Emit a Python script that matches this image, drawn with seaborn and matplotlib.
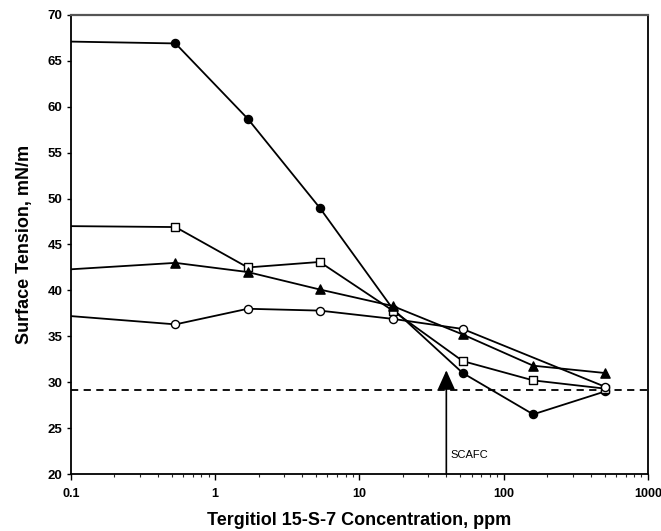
import numpy as np
import pandas as pd
import matplotlib
matplotlib.use("Agg")
import matplotlib.pyplot as plt
import seaborn as sns
from matplotlib.ticker import LogLocator, NullFormatter, FixedLocator, FixedFormatter

# ---- data ----
conc = [0.1, 0.53, 1.68, 5.3, 17, 52, 160, 505]
filled_circle = [67.1, 66.9, 58.7, 49.0, 38.0, 31.0, 26.5, 29.0]
open_square = [47.0, 46.9, 42.5, 43.1, 37.8, 32.3, 30.2, 29.3]
filled_triangle = [42.3, 43.0, 42.0, 40.1, 38.3, 35.2, 31.8, 31.0]
conc_open_circle = [0.1, 0.53, 1.68, 5.3, 17, 52, 505]
open_circle = [37.2, 36.3, 38.0, 37.8, 36.9, 35.8, 29.5]
scafc_line = 29.2
scafc_x = 40
x_ticks = [0.1, 1, 10, 100, 1000]
x_tick_labels = ["0.1", "1", "10", "100", "1000"]
y_ticks = [20, 25, 30, 35, 40, 45, 50, 55, 60, 65, 70]

sns.set_theme(style="white")
plt.rcParams['font.family'] = ['Liberation Sans', 'DejaVu Sans']

fig = plt.figure(figsize=(6.61, 5.31), dpi=100)
ax = fig.add_axes([0.1074, 0.1073, 0.9803 - 0.1074, 0.9718 - 0.1073])

series = [
    (conc, filled_circle, "o", "black"),
    (conc, open_square, "s", "white"),
    (conc, filled_triangle, "^", "black"),
    (conc_open_circle, open_circle, "o", "white"),
]
sizes = {"o": 34, "s": 30, "^": 44}
for xs, ys, m, fc in series:
    df = pd.DataFrame({"x": xs, "y": ys})
    sns.lineplot(data=df, x="x", y="y", ax=ax, color="black", lw=1.3,
                 estimator=None, sort=False, legend=False)
    sns.scatterplot(data=df.iloc[1:], x="x", y="y", ax=ax, marker=m,
                    s=sizes[m], facecolor=fc, edgecolor="black",
                    linewidth=1.0, zorder=5, legend=False)

ax.axhline(scafc_line, color="black", ls=(0, (4, 3)), lw=1.3)
ax.annotate("", xy=(scafc_x, 31.3), xytext=(scafc_x, 20),
            arrowprops=dict(arrowstyle="-|>,head_length=1.0,head_width=0.45",
                            color="black", lw=1.2, shrinkA=0, shrinkB=0))
ax.text(43, 22.1, "SCAFC", fontsize=8, color="black", va="center", ha="left")

ax.set_xscale("log")
ax.set_xlim(0.1, 1000)
ax.set_ylim(20, 70)
ax.xaxis.set_major_locator(FixedLocator(x_ticks))
ax.xaxis.set_major_formatter(FixedFormatter(x_tick_labels))
ax.xaxis.set_minor_locator(LogLocator(base=10, subs=np.arange(2, 10)))
ax.xaxis.set_minor_formatter(NullFormatter())
ax.set_yticks(y_ticks)
ax.set_yticklabels([str(v) for v in y_ticks])

ax.tick_params(axis="x", which="major", direction="out", length=4, width=1,
               bottom=True, labelsize=9, pad=6, colors="black")
ax.tick_params(axis="x", which="minor", direction="out", length=2.5, width=0.8,
               bottom=True)
ax.tick_params(axis="y", which="major", direction="out", length=3, width=1,
               left=True, labelsize=9.5, pad=3, colors="black")
for lab in ax.get_xticklabels() + ax.get_yticklabels():
    lab.set_fontweight("bold")

for side in ["left", "bottom", "right"]:
    ax.spines[side].set_color("black")
    ax.spines[side].set_linewidth(1.3)
ax.spines["top"].set_color("#555555")
ax.spines["top"].set_linewidth(1.6)

ax.set_xlabel("Tergitiol 15-S-7 Concentration, ppm", fontsize=13,
              fontweight="bold", labelpad=9, color="black")
ax.set_ylabel("Surface Tension, mN/m", fontsize=13, fontweight="bold",
              labelpad=11, color="black")

fig.savefig("out.png", dpi=100)
